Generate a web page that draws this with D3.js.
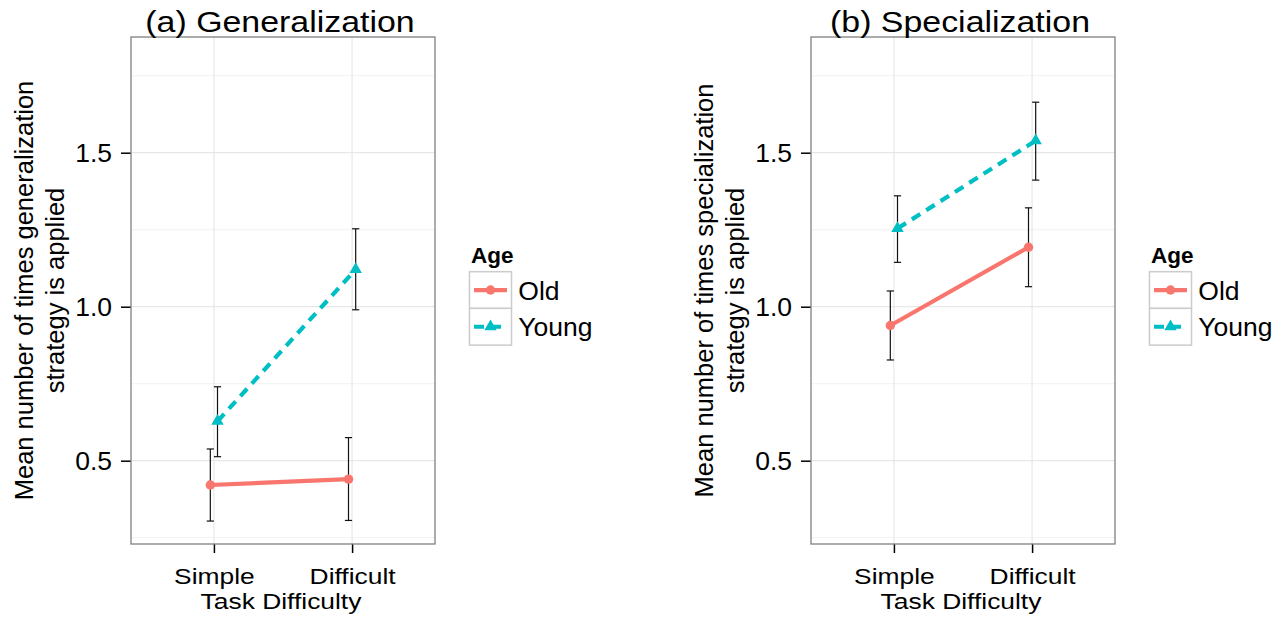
<!DOCTYPE html>
<html>
<head>
<meta charset="utf-8">
<script src="https://cdn.jsdelivr.net/npm/d3@7"></script>
<style>
  html, body { margin: 0; padding: 0; background: #ffffff; }
  svg { display: block; }
  text { font-family: "Liberation Sans", Arial, Helvetica, sans-serif; fill: #000; }
</style>
</head>
<body>
<svg id="chart" width="1287" height="619"></svg>
<script>
// ---------------- data ----------------
const categories = ["Simple", "Difficult"];
const groups = ["Old", "Young"];
const panelTitles = ["(a) Generalization", "(b) Specialization"];
const yTitleLines = [
  ["Mean number of times generalization", "strategy is applied"],
  ["Mean number of times specialization", "strategy is applied"]
];
const xTitle = "Task Difficulty";
const legendTitle = "Age";
const yTicks = [0.5, 1.0, 1.5];
const yMinorTicks = [0.25, 0.75, 1.25, 1.75];
const yDomain = [0.2295, 1.8757];

// (a) Generalization
const genOldMean    = [0.421, 0.440];
const genOldLower   = [0.304, 0.306];
const genOldUpper   = [0.538, 0.575];
const genYoungMean  = [0.628, 1.121];
const genYoungLower = [0.513, 0.990];
const genYoungUpper = [0.740, 1.253];
// (b) Specialization
const specOldMean    = [0.939, 1.193];
const specOldLower   = [0.827, 1.065];
const specOldUpper   = [1.051, 1.321];
const specYoungMean  = [1.254, 1.539];
const specYoungLower = [1.144, 1.411];
const specYoungUpper = [1.360, 1.664];

const colors = { Old: "#F8766D", Young: "#00BFC4" };

const panelData = [
  {
    Old:   { mean: genOldMean, lo: genOldLower, hi: genOldUpper },
    Young: { mean: genYoungMean, lo: genYoungLower, hi: genYoungUpper }
  },
  {
    Old:   { mean: specOldMean, lo: specOldLower, hi: specOldUpper },
    Young: { mean: specYoungMean, lo: specYoungLower, hi: specYoungUpper }
  }
];

// ---------------- layout ----------------
const svg = d3.select("#chart");
const panelShift = 680;
const plot = { left: 131, right: 435, top: 37, bottom: 544 };
const dashPattern = "10,7";

function triPath(s) {
  const r = 1.555 * s, xc = 1.347 * s, yc = 0.778 * s;
  return `M0,${-r}L${xc},${yc}L${-xc},${yc}Z`;
}

panelTitles.forEach((title, i) => {
  const g = svg.append("g").attr("transform", `translate(${i * panelShift},0)`);
  const x = d3.scalePoint().domain(categories).range([plot.left, plot.right]).padding(0.6);
  const y = d3.scaleLinear().domain(yDomain).range([plot.bottom, plot.top]);
  const dodge = x.step() * 0.026;
  const offs = { Old: -dodge, Young: dodge };
  const capHalf = x.step() * 0.026;

  // panel background
  g.append("rect").attr("x", plot.left).attr("y", plot.top)
    .attr("width", plot.right - plot.left).attr("height", plot.bottom - plot.top)
    .attr("fill", "#ffffff");

  // minor grid
  g.selectAll(".minor").data(yMinorTicks).join("line")
    .attr("x1", plot.left).attr("x2", plot.right)
    .attr("y1", d => y(d)).attr("y2", d => y(d))
    .attr("stroke", "#f4f4f4").attr("stroke-width", 1.2);
  // major grid
  g.selectAll(".majorY").data(yTicks).join("line")
    .attr("x1", plot.left).attr("x2", plot.right)
    .attr("y1", d => y(d)).attr("y2", d => y(d))
    .attr("stroke", "#e8e8e8").attr("stroke-width", 1.2);
  g.selectAll(".majorX").data(categories).join("line")
    .attr("x1", d => x(d)).attr("x2", d => x(d))
    .attr("y1", plot.top).attr("y2", plot.bottom)
    .attr("stroke", "#e8e8e8").attr("stroke-width", 1.2);

  // y axis
  const yAxis = g.append("g").attr("transform", `translate(${plot.left},0)`)
    .call(d3.axisLeft(y).tickValues(yTicks).tickFormat(d3.format(".1f")).tickSize(10).tickPadding(9));
  yAxis.select(".domain").remove();
  yAxis.selectAll("line").attr("stroke", "#000").attr("stroke-width", 1.5);
  yAxis.selectAll("text").attr("font-size", 26.5).attr("dy", "0.35em")
    .style("font-family", '"Liberation Sans", Arial, sans-serif').attr("fill", "#000");

  // x axis
  const xAxis = g.append("g").attr("transform", `translate(0,${plot.bottom})`)
    .call(d3.axisBottom(x).tickSize(9));
  xAxis.select(".domain").remove();
  xAxis.selectAll("line").attr("stroke", "#000").attr("stroke-width", 1.5);
  xAxis.selectAll("text").attr("font-size", 22).attr("dy", null).attr("y", 40)
    .attr("transform", "scale(1.2,1)")
    .style("font-family", '"Liberation Sans", Arial, sans-serif').attr("fill", "#000");

  // panel border
  g.append("rect").attr("x", plot.left).attr("y", plot.top)
    .attr("width", plot.right - plot.left).attr("height", plot.bottom - plot.top)
    .attr("fill", "none").attr("stroke", "#808080").attr("stroke-width", 1.3);

  const pd = panelData[i];

  // error bars
  groups.forEach(gr => {
    const d = pd[gr];
    categories.forEach((c, k) => {
      const cx = x(c) + offs[gr];
      const eb = g.append("g");
      eb.append("line").attr("x1", cx).attr("x2", cx)
        .attr("y1", y(d.lo[k])).attr("y2", y(d.hi[k]))
        .attr("stroke", "#111").attr("stroke-width", 1.2);
      [d.lo[k], d.hi[k]].forEach(v => {
        eb.append("line").attr("x1", cx - capHalf).attr("x2", cx + capHalf)
          .attr("y1", y(v)).attr("y2", y(v))
          .attr("stroke", "#111").attr("stroke-width", 1.2);
      });
    });
  });

  // lines
  groups.forEach(gr => {
    const d = pd[gr];
    const line = d3.line().x((c, k) => x(c) + offs[gr]).y((c, k) => y(d.mean[k]));
    g.append("path").datum(categories).attr("d", line)
      .attr("fill", "none").attr("stroke", colors[gr]).attr("stroke-width", 4.2)
      .attr("stroke-dasharray", gr === "Young" ? dashPattern : null);
  });

  // points
  groups.forEach(gr => {
    const d = pd[gr];
    categories.forEach((c, k) => {
      const cx = x(c) + offs[gr], cy = y(d.mean[k]);
      if (gr === "Old") {
        g.append("circle").attr("cx", cx).attr("cy", cy).attr("r", 4.7).attr("fill", colors[gr]);
      } else {
        g.append("path").attr("d", triPath(4.6)).attr("transform", `translate(${cx},${cy})`)
          .attr("fill", colors[gr]);
      }
    });
  });

  // titles
  const cxPlot = (plot.left + plot.right) / 2;
  g.append("text").attr("transform", `translate(${cxPlot - 3},32) scale(1.13,1)`)
    .attr("text-anchor", "middle").attr("font-size", 30).text(title);
  g.append("text").attr("transform", `translate(${cxPlot - 2},609) scale(1.2,1)`)
    .attr("text-anchor", "middle").attr("font-size", 22).text(xTitle);
  const cyPlot = (plot.top + plot.bottom) / 2;
  yTitleLines[i].forEach((ln, j) => {
    g.append("text").attr("transform", `translate(${32.5 + j * 31},${cyPlot}) rotate(-90)`)
      .attr("text-anchor", "middle").attr("font-size", 25.5).text(ln);
  });

  // legend
  const lg = g.append("g");
  lg.append("text").attr("x", 471).attr("y", 262.7).attr("font-size", 22.5)
    .attr("font-weight", "bold").text(legendTitle);
  const keyX = 469.5, keyW = 42, keyH = 36.7, keyY0 = 271.7;
  groups.forEach((gr, j) => {
    const ky = keyY0 + j * keyH;
    const cy = ky + keyH / 2;
    lg.append("rect").attr("x", keyX).attr("y", ky).attr("width", keyW).attr("height", keyH)
      .attr("fill", "#ffffff").attr("stroke", "#cccccc").attr("stroke-width", 1.5);
    lg.append("line").attr("x1", keyX + 4.5).attr("x2", keyX + keyW - 4.5)
      .attr("y1", cy).attr("y2", cy).attr("stroke", colors[gr]).attr("stroke-width", 4.2)
      .attr("stroke-dasharray", gr === "Young" ? dashPattern : null);
    const mx = keyX + keyW / 2;
    if (gr === "Old") {
      lg.append("circle").attr("cx", mx).attr("cy", cy).attr("r", 4.7).attr("fill", colors[gr]);
    } else {
      lg.append("path").attr("d", triPath(4.6)).attr("transform", `translate(${mx},${cy})`)
        .attr("fill", colors[gr]);
    }
    lg.append("text").attr("x", 518.3).attr("y", cy + 9.5).attr("font-size", 26.5).text(gr);
  });
});
</script>
</body>
</html>
